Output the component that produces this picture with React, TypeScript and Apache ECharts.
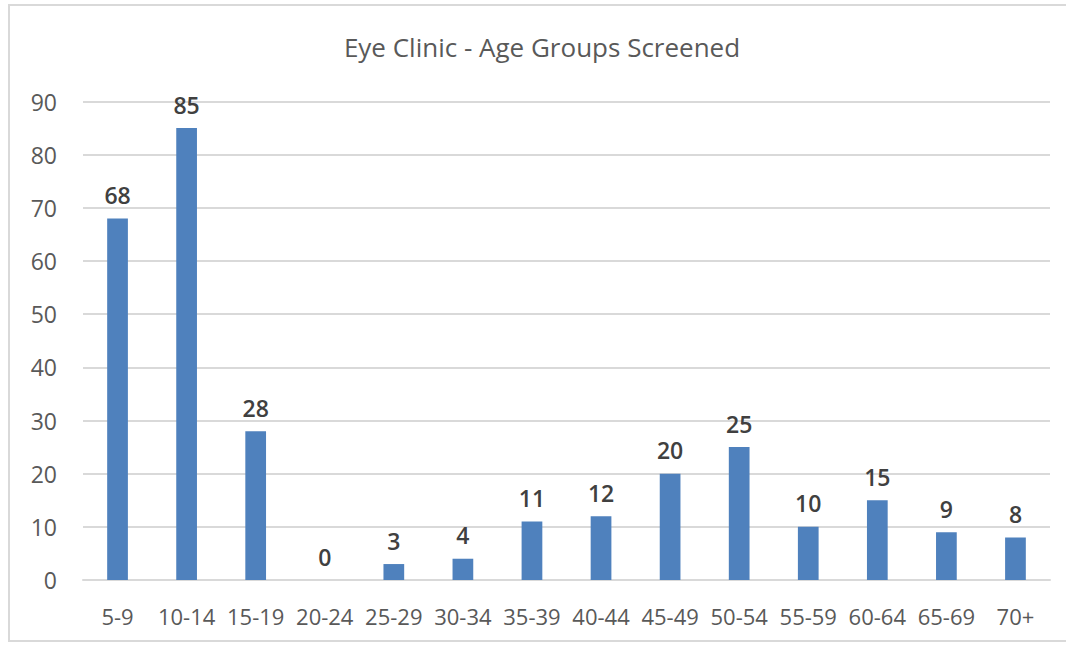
import React, { useEffect, useRef } from "react";
import * as echarts from "echarts";

const categories = ["5-9", "10-14", "15-19", "20-24", "25-29", "30-34", "35-39", "40-44", "45-49", "50-54", "55-59", "60-64", "65-69", "70+"];
const screened = [68, 85, 28, 0, 3, 4, 11, 12, 20, 25, 10, 15, 9, 8];
const yTicks = [0, 10, 20, 30, 40, 50, 60, 70, 80, 90];
const titleText = "Eye Clinic - Age Groups Screened";

const FONT = "'Open Sans', 'Noto Sans', sans-serif";

export default function App() {
  const ref = useRef<HTMLDivElement>(null);
  useEffect(() => {
    if (!ref.current) return;
    const chart = echarts.init(ref.current, undefined, { renderer: "svg" });
    chart.setOption({
      animation: false,
      backgroundColor: "#ffffff",
      title: {
        text: titleText,
        left: 537,
        textAlign: "center",
        top: 29,
        textStyle: { fontFamily: FONT, fontSize: 26, fontWeight: "normal", color: "#595959" },
      },
      graphic: [
        {
          type: "rect",
          shape: { x: 9, y: 5, width: 1080, height: 636 },
          style: { fill: "none", stroke: "#d9d9d9", lineWidth: 2 },
          silent: true,
        },
      ],
      grid: { left: 83, right: 16, top: 101.5, bottom: 66, containLabel: false },
      xAxis: {
        type: "category",
        data: categories,
        axisLine: { show: true, lineStyle: { color: "#d9d9d9", width: 2 } },
        axisTick: { show: false },
        axisLabel: { fontFamily: FONT, fontSize: 22, color: "#595959", margin: 25, interval: 0 },
      },
      yAxis: {
        type: "value",
        min: yTicks[0],
        max: yTicks[yTicks.length - 1],
        interval: 10,
        axisLine: { show: false },
        axisTick: { show: false },
        splitLine: { lineStyle: { color: "#d9d9d9", width: 2 } },
        axisLabel: { fontFamily: FONT, fontSize: 23, color: "#595959", margin: 26 },
      },
      series: [
        {
          type: "bar",
          data: screened,
          barWidth: "30%",
          itemStyle: { color: "#4f81bd" },
          label: {
            show: true,
            position: "top",
            distance: 12,
            fontFamily: FONT,
            fontSize: 23,
            fontWeight: 600,
            color: "#404040",
          },
        },
      ],
    });
    return () => chart.dispose();
  }, []);
  return (
    <div
      ref={ref}
      style={{ position: "absolute", left: 0, top: 0, width: 1066, height: 646 }}
    />
  );
}
